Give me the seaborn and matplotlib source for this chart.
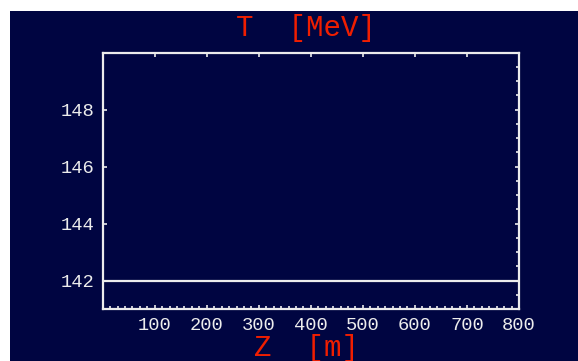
import numpy as np
import pandas as pd
import matplotlib
matplotlib.use("Agg")
import matplotlib.pyplot as plt
import seaborn as sns
from matplotlib.patches import Rectangle
from matplotlib.ticker import FixedLocator, MultipleLocator

# ---- data ----
z_m = [0, 800]
T_MeV = [142, 142]
x_tick_values = [100, 200, 300, 400, 500, 600, 700, 800]
x_tick_labels = ["100", "200", "300", "400", "500", "600", "700", "800"]
y_tick_values = [142, 144, 146, 148]
y_tick_labels = ["142", "144", "146", "148"]
title_text = "T  [MeV]"
xlabel_text = "Z  [m]"

NAVY = "#000541"
RED = "#F01E00"
FG = "#ECECEC"

sns.set_theme(style="white")
plt.rcParams["font.family"] = ["Liberation Mono", "DejaVu Sans"]

W, H = 578, 361
fig = plt.figure(figsize=(W / 100, H / 100), dpi=100)
fig.patch.set_facecolor("white")
fig.add_artist(Rectangle((10 / W, 0), (W - 10) / W, (H - 11) / H,
                         transform=fig.transFigure, facecolor=NAVY,
                         edgecolor="none", zorder=-10))

left, right, top, bottom = 102.7, 519.0, 52.7, 309.0
ax = fig.add_axes([left / W, 1 - bottom / H, (right - left) / W, (bottom - top) / H])
ax.set_facecolor(NAVY)

df = pd.DataFrame({"Z": z_m, "T": T_MeV})
sns.lineplot(data=df, x="Z", y="T", ax=ax, color=FG, linewidth=1.6)

ax.set_xlim(0, 800)
ax.set_ylim(141, 150)
ax.set_xlabel("")
ax.set_ylabel("")

for s in ax.spines.values():
    s.set_color(FG)
    s.set_linewidth(1.6)
    s.set_visible(True)

ax.xaxis.set_major_locator(FixedLocator(x_tick_values))
ax.set_xticklabels(x_tick_labels)
ax.xaxis.set_minor_locator(MultipleLocator(100 / 7))
ax.yaxis.set_major_locator(FixedLocator(y_tick_values))
ax.set_yticklabels(y_tick_labels)
ax.yaxis.set_minor_locator(MultipleLocator(0.5))

ax.tick_params(which="major", direction="in", length=3, width=1.2, color=FG,
               bottom=True, top=True, left=True, right=True,
               labelsize=13.5, labelcolor=FG, pad=6)
ax.tick_params(which="minor", direction="in", length=2, width=1.2, color=FG,
               bottom=True, top=False, left=False, right=True)

fig.text(306 / W, 1 - 28 / H, title_text, color=RED, fontsize=21,
         ha="center", va="center")
fig.text(306 / W, 1 - 348 / H, xlabel_text, color=RED, fontsize=21,
         ha="center", va="center")

fig.savefig("out.png", dpi=100)
